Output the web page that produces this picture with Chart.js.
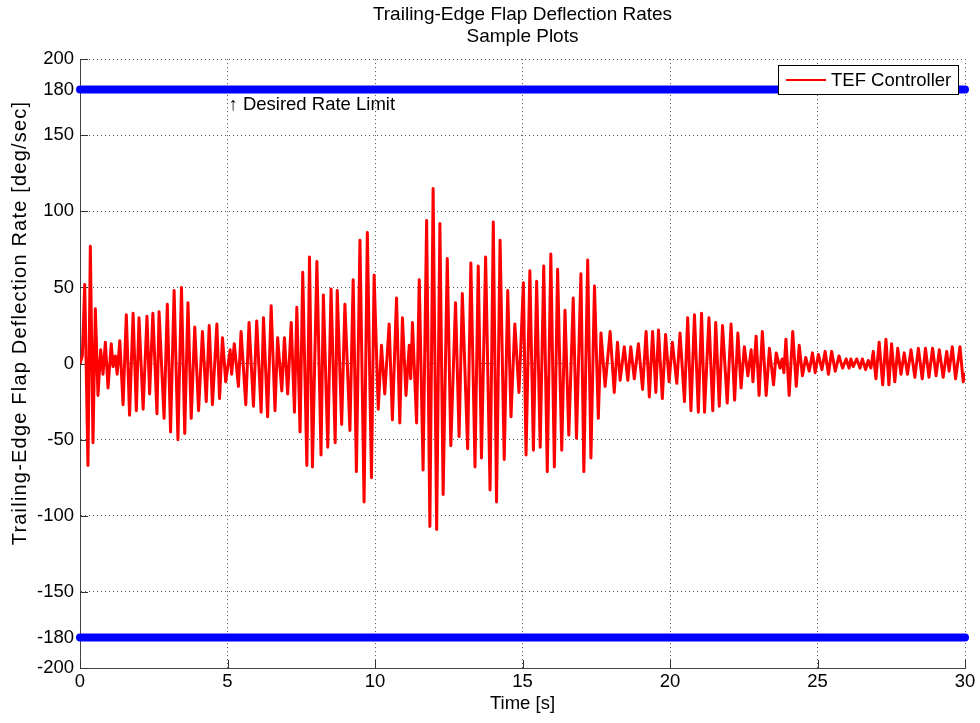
<!DOCTYPE html>
<html>
<head>
<meta charset="utf-8">
<title>Trailing-Edge Flap Deflection Rates</title>
<script src="https://cdn.jsdelivr.net/npm/chart.js@4.4.1/dist/chart.umd.min.js"></script>
<style>
  html, body { margin: 0; padding: 0; background: #fff; }
  #wrap { width: 980px; height: 723px; }
</style>
</head>
<body>
<div id="wrap"><canvas id="rateChart" width="980" height="723"></canvas></div>
<script>
// axis ticks
const xTicks = [0, 5, 10, 15, 20, 25, 30];
const yTicks = [-200, -180, -150, -100, -50, 0, 50, 100, 150, 180, 200];

// desired rate limit lines (deg/sec) over the run time (s)
const rateLimits = [180, -180];
const limitSpan = [0, 30];

// TEF controller deflection rate, [time s, rate deg/sec] at each turning point
const rateSamples = [
  [0, 0], [0.08, 5], [0.16, 52], [0.27, -67], [0.35, 77], [0.44, -52], [0.52, 36], [0.61, -21],
  [0.70, 9], [0.78, -7], [0.86, 14], [0.95, -16], [1.06, 13], [1.12, -2], [1.20, 5], [1.26, -7],
  [1.35, 15], [1.46, -27], [1.57, 32], [1.68, -34], [1.80, 33], [1.91, -31], [2.00, 30], [2.14, -30],
  [2.27, 31], [2.36, -20], [2.47, 33], [2.61, -33], [2.68, 34], [2.85, -36], [2.96, 39], [3.07, -45],
  [3.19, 48], [3.32, -50], [3.44, 50], [3.55, -46], [3.66, 40], [3.77, -36], [3.89, 24], [4.02, -31],
  [4.15, 21], [4.28, -25], [4.38, 25], [4.49, -27], [4.64, 26], [4.73, -23], [4.83, 17], [4.94, -12],
  [5.09, 9], [5.14, -7], [5.23, 13], [5.37, -15], [5.46, 21], [5.62, -27], [5.73, 27], [5.88, -28],
  [5.99, 28], [6.14, -32], [6.22, 30], [6.36, -35], [6.48, 38], [6.61, -31], [6.70, 17], [6.84, -18],
  [6.93, 17], [7.04, -20], [7.16, 27], [7.27, -32], [7.35, 37], [7.46, -45], [7.55, 60], [7.69, -67],
  [7.78, 70], [7.88, -68], [8.03, 67], [8.17, -60], [8.25, 45], [8.40, -55], [8.51, 49], [8.65, -52],
  [8.72, 48], [8.87, -40], [8.98, 39], [9.15, -44], [9.26, 55], [9.37, -71], [9.49, 81], [9.63, -91],
  [9.74, 86], [9.88, -75], [9.97, 58], [10.11, -30], [10.22, 12], [10.33, -20], [10.48, 26], [10.59, -37],
  [10.73, 43], [10.84, -39], [10.93, 30], [11.05, -21], [11.16, 12], [11.21, -10], [11.27, 27], [11.41, -39],
  [11.50, 55], [11.63, -70], [11.75, 94], [11.86, -107], [11.97, 115], [12.09, -109], [12.20, 92], [12.31, -86],
  [12.45, 69], [12.57, -54], [12.73, 40], [12.85, -48], [12.96, 46], [13.14, -56], [13.25, 66], [13.39, -68],
  [13.50, 64], [13.61, -62], [13.75, 70], [13.90, -83], [14.01, 93], [14.12, -91], [14.24, 81], [14.38, -63],
  [14.50, 48], [14.61, -35], [14.74, 26], [14.88, -19], [15.03, 53], [15.12, -60], [15.25, 61], [15.37, -57],
  [15.48, 54], [15.60, -55], [15.72, 64], [15.84, -71], [15.96, 72], [16.08, -68], [16.19, 62], [16.33, -57],
  [16.44, 35], [16.57, -47], [16.72, 43], [16.83, -49], [16.98, 59], [17.08, -71], [17.21, 68], [17.32, -62],
  [17.44, 51], [17.57, -36], [17.66, 20], [17.80, -15], [17.97, 21], [18.11, -19], [18.22, 14], [18.31, -11],
  [18.45, 11], [18.57, -11], [18.67, 11], [18.79, -10], [18.93, 13], [19.07, -17], [19.19, 21], [19.30, -22],
  [19.41, 21], [19.52, -19], [19.61, 22], [19.74, -23], [19.85, 19], [19.97, -12], [20.08, 14], [20.23, -13],
  [20.34, 20], [20.49, -25], [20.60, 30], [20.71, -31], [20.83, 32], [20.96, -32], [21.07, 33], [21.17, -32],
  [21.32, 30], [21.45, -31], [21.55, 27], [21.67, -28], [21.78, 25], [21.94, -26], [22.07, 26], [22.19, -24],
  [22.30, 20], [22.41, -16], [22.52, 11], [22.64, -8], [22.75, 9], [22.81, -12], [22.92, 18], [23.02, -21],
  [23.13, 21], [23.26, -21], [23.37, 10], [23.51, -14], [23.60, 7], [23.73, -3], [23.80, 3], [23.86, -6],
  [23.93, 16], [24.04, -21], [24.16, 21], [24.28, -15], [24.38, 12], [24.49, -8], [24.60, 4], [24.72, -5],
  [24.83, 7], [24.92, -6], [25.03, 6], [25.15, -4], [25.26, 8], [25.37, -7], [25.48, 8], [25.60, -5],
  [25.73, 5], [25.85, -3], [25.97, 3], [26.07, -3], [26.13, 3], [26.21, -2], [26.33, 3], [26.44, -3],
  [26.52, 3], [26.63, -4], [26.72, 2], [26.81, -3], [26.89, 8], [26.98, -10], [27.09, 14], [27.21, -14],
  [27.32, 16], [27.42, -14], [27.51, 13], [27.62, -12], [27.72, 10], [27.83, -7], [27.94, 7], [28.05, -7],
  [28.17, 9], [28.30, -9], [28.42, 10], [28.55, -10], [28.66, 10], [28.78, -9], [28.90, 10], [29.02, -8],
  [29.13, 9], [29.26, -9], [29.38, 8], [29.46, -5], [29.57, 11], [29.68, -10], [29.83, 11], [29.94, -12],
  [30, -6]
];

const FONT = "'Liberation Sans', Arial, Helvetica, sans-serif";
const LABEL_SIZE = 18.5;

// dotted grid + inward tick marks, matlab style
const axisStyle = {
  grid: { color: "#555", lineWidth: 1, drawTicks: false },
  border: { display: true, color: "#444", width: 1, dash: [1, 3] },
};

const limitDatasets = rateLimits.map((lim) => ({
  label: "limit " + lim,
  data: limitSpan.map((t) => ({ x: t, y: lim })),
  borderColor: "#0000ff",
  borderWidth: 8,
  borderCapStyle: "round",
  pointRadius: 0,
  clip: false,
}));

const decorations = {
  id: "decorations",
  beforeDatasetsDraw(chart) {
    const { ctx, chartArea: a, scales: { x, y } } = chart;
    ctx.save();
    ctx.strokeStyle = "#333";
    ctx.lineWidth = 1;
    ctx.beginPath();
    xTicks.forEach((v) => {
      const px = Math.round(x.getPixelForValue(v)) + 0.5;
      ctx.moveTo(px, a.bottom);
      ctx.lineTo(px, a.bottom - 8);
    });
    yTicks.forEach((v) => {
      const py = Math.round(y.getPixelForValue(v)) + 0.5;
      ctx.moveTo(a.left, py);
      ctx.lineTo(a.left + 8, py);
    });
    ctx.stroke();
    ctx.restore();
  },
  afterDraw(chart) {
    const { ctx, scales: { x, y } } = chart;
    ctx.save();
    ctx.fillStyle = "#000";
    ctx.font = LABEL_SIZE + "px " + FONT;
    ctx.textBaseline = "middle";

    // annotation under the upper limit line
    ctx.fillText("\u2191 Desired Rate Limit", x.getPixelForValue(5) + 1, y.getPixelForValue(180) + 15);

    // legend box
    const lx = 778.5, ly = 65.5, lw = 180, lh = 29;
    ctx.fillStyle = "#fff";
    ctx.fillRect(lx, ly, lw, lh);
    ctx.strokeStyle = "#000";
    ctx.lineWidth = 1;
    ctx.strokeRect(lx, ly, lw, lh);
    ctx.strokeStyle = "#ff0000";
    ctx.lineWidth = 2;
    ctx.beginPath();
    ctx.moveTo(786, 80);
    ctx.lineTo(826, 80);
    ctx.stroke();
    ctx.fillStyle = "#000";
    ctx.fillText("TEF Controller", 831, 80.5);

    // y axis title
    ctx.translate(20, 323);
    ctx.rotate(-Math.PI / 2);
    ctx.textAlign = "center";
    ctx.font = "20px " + FONT;
    ctx.letterSpacing = "1.2px";
    ctx.fillText("Trailing-Edge Flap Deflection Rate [deg/sec]", 0, 0);
    ctx.restore();
  },
};

new Chart(document.getElementById("rateChart"), {
  type: "line",
  data: {
    datasets: [
      {
        label: "TEF Controller",
        data: rateSamples.map(([t, v]) => ({ x: t, y: v })),
        borderColor: "#ff0000",
        borderWidth: 3,
        borderJoinStyle: "round",
        pointRadius: 0,
        tension: 0,
      },
      ...limitDatasets,
    ],
  },
  options: {
    responsive: false,
    animation: false,
    events: [],
    layout: { padding: { left: 0, right: 15, top: 0, bottom: 0 } },
    plugins: {
      legend: { display: false },
      tooltip: { enabled: false },
      title: {
        display: true,
        fullSize: false,
        text: ["Trailing-Edge Flap Deflection Rates", "Sample Plots"],
        color: "#000",
        font: { family: FONT, size: 19, weight: "normal", lineHeight: 1.16 },
        padding: { top: 4, bottom: 11 },
      },
    },
    scales: {
      x: {
        type: "linear",
        min: 0,
        max: 30,
        afterBuildTicks: (s) => { s.ticks = xTicks.map((v) => ({ value: v })); },
        afterFit: (s) => { s.height = 55; },
        ...axisStyle,
        ticks: { color: "#000", font: { family: FONT, size: LABEL_SIZE }, padding: 3, maxRotation: 0, autoSkip: false },
        title: {
          display: true,
          text: "Time [s]",
          color: "#000",
          font: { family: FONT, size: LABEL_SIZE },
          padding: { top: 0, bottom: 8 },
        },
      },
      y: {
        type: "linear",
        min: -200,
        max: 200,
        afterBuildTicks: (s) => { s.ticks = yTicks.map((v) => ({ value: v })); },
        afterFit: (s) => { s.width = 80; },
        ...axisStyle,
        ticks: { color: "#000", font: { family: FONT, size: LABEL_SIZE }, padding: 6, autoSkip: false },
      },
    },
  },
  plugins: [decorations],
});
</script>
</body>
</html>
